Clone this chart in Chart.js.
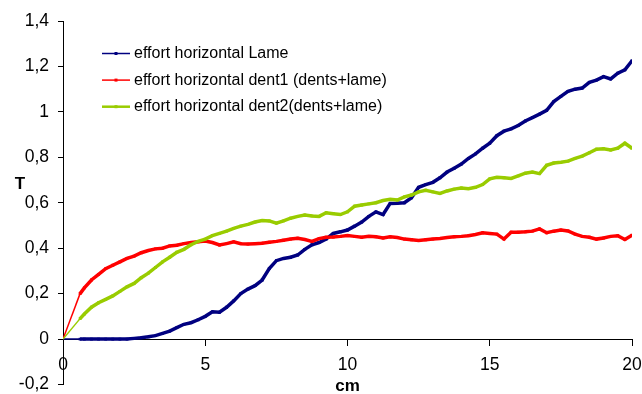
<!DOCTYPE html>
<html>
<head>
<meta charset="utf-8">
<script src="https://cdn.jsdelivr.net/npm/chart.js@4.4.1/dist/chart.umd.min.js"></script>
<style>
  html, body { margin: 0; padding: 0; background: #fff; }
  #chart-render { width: 642px; height: 394px; }
</style>
</head>
<body>
<div id="chart-render"><canvas id="effortChart" width="642" height="394"></canvas></div>
<script>
// position along the tooth (cm)
const cm = [0, 0.6, 0.75, 1, 1.25, 1.5, 1.75, 2, 2.25, 2.5, 2.75, 3, 3.25, 3.5, 3.75, 4,
  4.25, 4.5, 4.75, 5, 5.25, 5.5, 5.75, 6, 6.25, 6.5, 6.75, 7, 7.25, 7.5, 7.75, 8,
  8.25, 8.5, 8.75, 9, 9.25, 9.5, 9.75, 10, 10.25, 10.5, 10.75, 11, 11.25, 11.5, 11.75, 12,
  12.25, 12.5, 12.75, 13, 13.25, 13.5, 13.75, 14, 14.25, 14.5, 14.75, 15, 15.25, 15.5, 15.75, 16,
  16.25, 16.5, 16.75, 17, 17.25, 17.5, 17.75, 18, 18.25, 18.5, 18.75, 19, 19.25, 19.5, 19.75, 20];

const lame = [0, 0, 0, 0, 0, 0, 0, 0, 0, 0.003, 0.006, 0.01, 0.015, 0.025, 0.035, 0.05,
  0.065, 0.072, 0.085, 0.1, 0.12, 0.118, 0.14, 0.168, 0.2, 0.22, 0.235, 0.26, 0.31, 0.345, 0.355, 0.36,
  0.37, 0.395, 0.415, 0.425, 0.44, 0.465, 0.472, 0.48, 0.497, 0.515, 0.54, 0.56, 0.548, 0.597, 0.598, 0.6,
  0.622, 0.668, 0.68, 0.69, 0.71, 0.735, 0.752, 0.77, 0.795, 0.815, 0.84, 0.862, 0.895, 0.915, 0.925, 0.94,
  0.96, 0.975, 0.99, 1.007, 1.045, 1.068, 1.09, 1.1, 1.105, 1.13, 1.14, 1.155, 1.145, 1.17, 1.185, 1.225];

const dent1 = [0, 0.2, 0.225, 0.26, 0.285, 0.31, 0.325, 0.34, 0.355, 0.365, 0.38, 0.39, 0.397, 0.4, 0.41, 0.413,
  0.42, 0.425, 0.428, 0.432, 0.425, 0.414, 0.42, 0.428, 0.42, 0.418, 0.42, 0.422, 0.426, 0.43, 0.435, 0.44,
  0.444, 0.438, 0.43, 0.442, 0.448, 0.449, 0.452, 0.456, 0.452, 0.448, 0.452, 0.45, 0.445, 0.45, 0.447, 0.44,
  0.437, 0.434, 0.437, 0.44, 0.443, 0.447, 0.45, 0.452, 0.455, 0.46, 0.468, 0.465, 0.462, 0.44, 0.47, 0.47,
  0.472, 0.475, 0.485, 0.468, 0.475, 0.48, 0.476, 0.462, 0.452, 0.448, 0.44, 0.445, 0.452, 0.455, 0.438, 0.457];

const dent2 = [0, 0.09, 0.11, 0.14, 0.16, 0.175, 0.19, 0.21, 0.23, 0.245, 0.27, 0.29, 0.315, 0.34, 0.36, 0.382,
  0.395, 0.415, 0.43, 0.44, 0.455, 0.465, 0.475, 0.487, 0.497, 0.505, 0.515, 0.522, 0.52, 0.51, 0.52, 0.532,
  0.54, 0.546, 0.542, 0.54, 0.556, 0.552, 0.548, 0.56, 0.585, 0.59, 0.595, 0.6, 0.61, 0.615, 0.612, 0.626,
  0.634, 0.648, 0.655, 0.648, 0.641, 0.652, 0.66, 0.665, 0.662, 0.668, 0.68, 0.705, 0.712, 0.71, 0.707, 0.718,
  0.73, 0.735, 0.728, 0.765, 0.775, 0.778, 0.783, 0.795, 0.805, 0.82, 0.836, 0.838, 0.832, 0.84, 0.862, 0.84];

const seriesNames = ['effort horizontal Lame', 'effort horizontal dent1 (dents+lame)', 'effort horizontal dent2(dents+lame)'];
const seriesColors = ['#000080', '#FF0000', '#99CC00'];

const FONT = "'Liberation Sans', Arial, sans-serif";

const toPoints = (values) => values.map((v, i) => ({ x: cm[i], y: v }));

// decimal comma, no trailing zero ("1", "0,8", "-0,2")
const frNumber = (v) => String(Number(v.toFixed(1))).replace('.', ',');

// keep the plot box fixed: layout.padding alone decides the margins
const noScalePadding = (scale) => {
  scale.paddingLeft = 0;
  scale.paddingRight = 0;
  scale.paddingTop = 0;
  scale.paddingBottom = 0;
};

// legend drawn inside the plot, top-left
const insideLegend = {
  id: 'insideLegend',
  afterDraw(chart) {
    const { ctx } = chart;
    ctx.save();
    ctx.font = `16px ${FONT}`;
    ctx.textBaseline = 'middle';
    chart.data.datasets.forEach((ds, i) => {
      const y = 53.5 + i * 26.6;
      ctx.strokeStyle = ds.borderColor;
      ctx.lineWidth = i === 2 ? 2.5 : 1.5;
      ctx.beginPath();
      ctx.moveTo(102, y);
      ctx.lineTo(130, y);
      ctx.stroke();
      ctx.fillStyle = ds.borderColor;
      ctx.fillRect(114.5, y - 1.5, 3, 3);
      ctx.fillStyle = '#000';
      ctx.fillText(ds.label, 134, y);
    });
    ctx.restore();
  },
};

// upright "T" beside the y axis and "cm" under the x axis
const axisTitles = {
  id: 'axisTitles',
  afterDraw(chart) {
    const { ctx, chartArea } = chart;
    ctx.save();
    ctx.font = `bold 17px ${FONT}`;
    ctx.fillStyle = '#000';
    ctx.textAlign = 'center';
    ctx.textBaseline = 'middle';
    ctx.fillText('T', 20, 184);
    ctx.textBaseline = 'alphabetic';
    ctx.fillText('cm', (chartArea.left + chartArea.right) / 2, 391);
    ctx.restore();
  },
};

const makeDataset = (label, values, color, order) => ({
  label,
  data: toPoints(values),
  borderColor: color,
  backgroundColor: color,
  borderWidth: 3.5,
  pointStyle: 'rect',
  pointRadius: (c) => (c.dataIndex === 0 ? 0 : 2),
  pointBorderWidth: 0,
  tension: 0,
  order,
  segment: {
    // the first leg from the origin is a plain thin line
    borderWidth: (c) => (c.p0DataIndex === 0 ? 1.5 : 3.5),
  },
});

const ctx = document.getElementById('effortChart');
window.chartInstance = new Chart(ctx, {
  type: 'line',
  data: {
    datasets: [
      makeDataset(seriesNames[0], lame, seriesColors[0], 3),
      makeDataset(seriesNames[1], dent1, seriesColors[1], 2),
      makeDataset(seriesNames[2], dent2, seriesColors[2], 1),
    ],
  },
  options: {
    responsive: false,
    animation: false,
    devicePixelRatio: 1,
    layout: { padding: { top: 21, right: 10, bottom: 9.5, left: 0 } },
    plugins: {
      legend: { display: false },
      tooltip: { enabled: false },
    },
    scales: {
      x: {
        type: 'linear',
        min: 0,
        max: 20,
        position: { y: 0 },
        ticks: {
          stepSize: 5,
          color: '#000',
          font: { family: FONT, size: 17.5 },
          padding: 10,
          maxRotation: 0,
        },
        grid: { drawOnChartArea: false, drawTicks: true, tickLength: 6, color: '#000' },
        border: { display: true, color: '#000', width: 1 },
        afterFit: noScalePadding,
      },
      y: {
        min: -0.2,
        max: 1.4,
        ticks: {
          stepSize: 0.2,
          color: '#000',
          font: { family: FONT, size: 17.5 },
          padding: 9,
          callback: (v) => frNumber(v),
        },
        grid: { drawOnChartArea: false, drawTicks: true, tickLength: 5, color: '#000' },
        border: { display: true, color: '#000', width: 1 },
        afterFit: (scale) => {
          noScalePadding(scale);
          scale.width = 63;
        },
      },
    },
  },
  plugins: [insideLegend, axisTitles],
});
</script>
</body>
</html>
